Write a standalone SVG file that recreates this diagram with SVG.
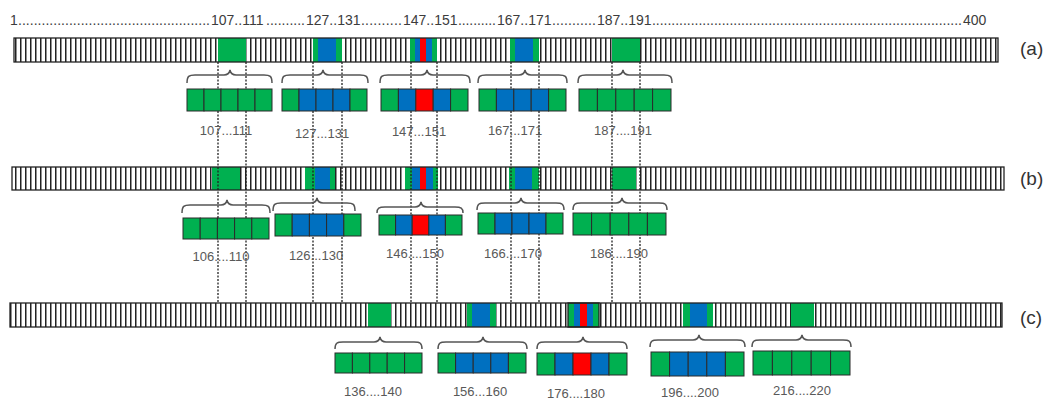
<svg xmlns="http://www.w3.org/2000/svg" width="1056" height="399" viewBox="0 0 1056 399">
<defs>
<pattern id="cells" patternUnits="userSpaceOnUse" x="0" y="0" width="5" height="40">
<rect x="0" y="0" width="5" height="40" fill="#ffffff"/>
<rect x="0" y="0" width="1.5" height="40" fill="#222222"/>
</pattern>
</defs>
<style>
.g{fill:#00b050}
.b{fill:#0070c0}
.r{fill:#ff0000}
.cell rect{stroke:#2b2b2b;stroke-width:1}
.bar{fill:url(#cells)}
.outline{fill:none;stroke:#222222;stroke-width:1.3}
.brace{fill:none;stroke:#555555;stroke-width:1.5}
.lbl{font-family:"Liberation Sans",Arial,sans-serif;font-size:13px;fill:#595959;text-anchor:middle}
.ruler{font-family:"Liberation Sans",Arial,sans-serif;font-size:14px;fill:#3c3c3c}
.tag{font-family:"Liberation Sans",Arial,sans-serif;font-size:19px;fill:#333333}
.dot{fill:none;stroke:#222222;stroke-width:1.3;stroke-dasharray:2 1.5}
</style>

<text class="ruler" y="25"><tspan x="10">1</tspan><tspan x="18" textLength="192" lengthAdjust="spacing">.................................................</tspan><tspan x="211">107..111</tspan><tspan x="266" textLength="39" lengthAdjust="spacing">..........</tspan><tspan x="306">127..131</tspan><tspan x="361" textLength="41" lengthAdjust="spacing">..........</tspan><tspan x="403">147..151</tspan><tspan x="458" textLength="38" lengthAdjust="spacing">..........</tspan><tspan x="497">167..171</tspan><tspan x="552" textLength="44" lengthAdjust="spacing">...........</tspan><tspan x="597">187..191</tspan><tspan x="652" textLength="310" lengthAdjust="spacing">................................................................................</tspan><tspan x="963">400</tspan></text>

<g id="bar-a">
<rect class="bar" x="14" y="38" width="984" height="24"/>
<rect class="g" x="218" y="38" width="28" height="24"/>
<rect class="g" x="313" y="38" width="29" height="24"/><rect class="b" x="318" y="38" width="18" height="24"/>
<rect class="g" x="410" y="38" width="27" height="24"/><rect class="b" x="415" y="38" width="17" height="24"/><rect class="r" x="420" y="38" width="6" height="24"/>
<rect class="g" x="510" y="38" width="29" height="24"/><rect class="b" x="515" y="38" width="18" height="24"/>
<rect class="g" x="612" y="38" width="28" height="24"/>
<rect class="outline" x="14" y="38" width="984" height="24"/>
<text class="tag" x="1020" y="55">(a)</text>
</g>

<g id="bar-b">
<rect class="bar" x="12" y="167" width="992" height="23"/>
<rect class="g" x="212" y="167" width="28" height="23"/>
<rect class="g" x="305" y="167" width="30" height="23"/><rect class="b" x="315" y="167" width="15" height="23"/>
<rect class="g" x="405" y="167" width="33" height="23"/><rect class="b" x="412" y="167" width="21" height="23"/><rect class="r" x="420" y="167" width="6" height="23"/>
<rect class="g" x="509" y="167" width="30" height="23"/><rect class="b" x="515" y="167" width="17" height="23"/>
<rect class="g" x="612" y="167" width="24" height="23"/>
<rect class="outline" x="12" y="167" width="992" height="23"/>
<text class="tag" x="1020" y="185">(b)</text>
</g>

<g id="bar-c">
<rect class="bar" x="10" y="303" width="992" height="24"/>
<rect class="g" x="368" y="303" width="23" height="24"/>
<rect class="g" x="467" y="303" width="29" height="24"/><rect class="b" x="472" y="303" width="18" height="24"/>
<rect class="g" x="568" y="303" width="31" height="24"/><rect class="b" x="574" y="303" width="19" height="24"/><rect class="r" x="580" y="303" width="7" height="24"/>
<rect class="g" x="683" y="303" width="30" height="24"/><rect class="b" x="690" y="303" width="17" height="24"/>
<rect class="g" x="791" y="303" width="23" height="24"/>
<rect class="outline" x="10" y="303" width="992" height="24"/>
<rect class="outline" x="568" y="303" width="31" height="24"/>
<text class="tag" x="1020" y="324">(c)</text>
</g>

<g id="connectors">
<line class="dot" x1="218" y1="62" x2="218" y2="303"/>
<line class="dot" x1="246" y1="62" x2="246" y2="303"/>
<line class="dot" x1="313" y1="62" x2="313" y2="303"/>
<line class="dot" x1="342" y1="62" x2="342" y2="303"/>
<line class="dot" x1="411" y1="62" x2="411" y2="303"/>
<line class="dot" x1="437" y1="62" x2="437" y2="303"/>
<line class="dot" x1="511" y1="62" x2="511" y2="303"/>
<line class="dot" x1="539" y1="62" x2="539" y2="303"/>
<line class="dot" x1="612" y1="62" x2="612" y2="303"/>
<line class="dot" x1="640" y1="62" x2="640" y2="303"/>
</g>

<g id="seg-a1">
<path class="brace" d="M187,83 C187,76 189,75 195,75 L224,75 Q229,75 230,70 Q231,75 236,75 L264,75 C270,75 272,76 272,83"/>
<g class="cell"><rect class="g" x="187" y="89" width="17" height="22"/><rect class="g" x="204" y="89" width="17" height="22"/><rect class="g" x="221" y="89" width="17" height="22"/><rect class="g" x="238" y="89" width="17" height="22"/><rect class="g" x="255" y="89" width="17" height="22"/></g>
<text class="lbl" x="226" y="135">107...111</text>
</g>
<g id="seg-a2">
<path class="brace" d="M282,83 C282,76 284,75 290,75 L317,75 Q322,75 323,70 Q324,75 329,75 L360,75 C366,75 368,76 368,83"/>
<g class="cell"><rect class="g" x="282" y="89" width="17" height="22"/><rect class="b" x="299" y="89" width="17" height="22"/><rect class="b" x="316" y="89" width="17" height="22"/><rect class="b" x="333" y="89" width="17" height="22"/><rect class="g" x="350" y="89" width="17" height="22"/></g>
<text class="lbl" x="322" y="138">127...131</text>
</g>
<g id="seg-a3">
<path class="brace" d="M380,83 C380,76 382,75 388,75 L421,75 Q426,75 427,70 Q428,75 433,75 L462,75 C468,75 470,76 470,83"/>
<g class="cell"><rect class="g" x="381" y="89" width="17.4" height="22"/><rect class="b" x="398.4" y="89" width="17.4" height="22"/><rect class="r" x="415.8" y="89" width="17.4" height="22"/><rect class="b" x="433.2" y="89" width="17.4" height="22"/><rect class="g" x="450.6" y="89" width="17.4" height="22"/></g>
<text class="lbl" x="419" y="136">147...151</text>
</g>
<g id="seg-a4">
<path class="brace" d="M478,83 C478,76 480,75 486,75 L519,75 Q524,75 525,70 Q526,75 531,75 L559,75 C565,75 567,76 567,83"/>
<g class="cell"><rect class="g" x="479" y="89" width="17.4" height="22"/><rect class="b" x="496.4" y="89" width="17.4" height="22"/><rect class="b" x="513.8" y="89" width="17.4" height="22"/><rect class="b" x="531.2" y="89" width="17.4" height="22"/><rect class="g" x="548.6" y="89" width="17.4" height="22"/></g>
<text class="lbl" x="515" y="135">167...171</text>
</g>
<g id="seg-a5">
<path class="brace" d="M578,83 C578,76 580,75 586,75 L617,75 Q622,75 623,70 Q624,75 629,75 L664,75 C670,75 672,76 672,83"/>
<g class="cell"><rect class="g" x="579" y="89" width="18.4" height="22"/><rect class="g" x="597.4" y="89" width="18.4" height="22"/><rect class="g" x="615.8" y="89" width="18.4" height="22"/><rect class="g" x="634.2" y="89" width="18.4" height="22"/><rect class="g" x="652.6" y="89" width="18.4" height="22"/></g>
<text class="lbl" x="623" y="135">187....191</text>
</g>

<g id="seg-b1">
<path class="brace" d="M182,213 C182,206 184,205 190,205 L221,205 Q226,205 227,200 Q228,205 233,205 L262,205 C268,205 270,206 270,213"/>
<g class="cell"><rect class="g" x="183" y="218" width="17.2" height="21"/><rect class="g" x="200.2" y="218" width="17.2" height="21"/><rect class="g" x="217.4" y="218" width="17.2" height="21"/><rect class="g" x="234.6" y="218" width="17.2" height="21"/><rect class="g" x="251.8" y="218" width="17.2" height="21"/></g>
<text class="lbl" x="221" y="261">106....110</text>
</g>
<g id="seg-b2">
<path class="brace" d="M273,211 C273,204 275,203 281,203 L311,203 Q316,203 317,198 Q318,203 323,203 L347,203 C353,203 355,204 355,211"/>
<g class="cell"><rect class="g" x="275" y="214" width="17.2" height="22"/><rect class="b" x="292.2" y="214" width="17.2" height="22"/><rect class="b" x="309.4" y="214" width="17.2" height="22"/><rect class="b" x="326.6" y="214" width="17.2" height="22"/><rect class="g" x="343.8" y="214" width="17.2" height="22"/></g>
<text class="lbl" x="316" y="260">126...130</text>
</g>
<g id="seg-b3">
<path class="brace" d="M377,213 C377,208 379,207 385,207 L415,207 Q420,207 421,202 Q422,207 427,207 L455,207 C461,207 463,208 463,213"/>
<g class="cell"><rect class="g" x="379" y="215" width="16.6" height="20"/><rect class="b" x="395.6" y="215" width="16.6" height="20"/><rect class="r" x="412.2" y="215" width="16.6" height="20"/><rect class="b" x="428.8" y="215" width="16.6" height="20"/><rect class="g" x="445.4" y="215" width="16.6" height="20"/></g>
<text class="lbl" x="415" y="258">146....150</text>
</g>
<g id="seg-b4">
<path class="brace" d="M477,210 C477,204 479,203 485,203 L515,203 Q520,203 521,198 Q522,203 527,203 L556,203 C562,203 564,204 564,210"/>
<g class="cell"><rect class="g" x="478" y="213" width="17" height="21"/><rect class="b" x="495" y="213" width="17" height="21"/><rect class="b" x="512" y="213" width="17" height="21"/><rect class="b" x="529" y="213" width="17" height="21"/><rect class="g" x="546" y="213" width="17" height="21"/></g>
<text class="lbl" x="513" y="258">166....170</text>
</g>
<g id="seg-b5">
<path class="brace" d="M573,210 C573,204 575,203 581,203 L616,203 Q621,203 622,198 Q623,203 628,203 L659,203 C665,203 667,204 667,210"/>
<g class="cell"><rect class="g" x="573" y="213" width="18.6" height="22"/><rect class="g" x="591.6" y="213" width="18.6" height="22"/><rect class="g" x="610.2" y="213" width="18.6" height="22"/><rect class="g" x="628.8" y="213" width="18.6" height="22"/><rect class="g" x="647.4" y="213" width="18.6" height="22"/></g>
<text class="lbl" x="619" y="258">186....190</text>
</g>

<g id="seg-c1">
<path class="brace" d="M335,349 C335,343 337,342 343,342 L374,342 Q379,342 380,337 Q381,342 386,342 L414,342 C420,342 422,343 422,349"/>
<g class="cell"><rect class="g" x="335" y="353" width="17.4" height="20"/><rect class="g" x="352.4" y="353" width="17.4" height="20"/><rect class="g" x="369.8" y="353" width="17.4" height="20"/><rect class="g" x="387.2" y="353" width="17.4" height="20"/><rect class="g" x="404.6" y="353" width="17.4" height="20"/></g>
<text class="lbl" x="373" y="396">136....140</text>
</g>
<g id="seg-c2">
<path class="brace" d="M438,349 C438,343 440,342 446,342 L477,342 Q482,342 483,337 Q484,342 489,342 L519,342 C525,342 527,343 527,349"/>
<g class="cell"><rect class="g" x="438" y="353" width="17.6" height="20"/><rect class="b" x="455.6" y="353" width="17.6" height="20"/><rect class="b" x="473.2" y="353" width="17.6" height="20"/><rect class="b" x="490.8" y="353" width="17.6" height="20"/><rect class="g" x="508.4" y="353" width="17.6" height="20"/></g>
<text class="lbl" x="480" y="396">156...160</text>
</g>
<g id="seg-c3">
<path class="brace" d="M537,349 C537,343 539,342 545,342 L577,342 Q582,342 583,337 Q584,342 589,342 L619,342 C625,342 627,343 627,349"/>
<g class="cell"><rect class="g" x="537" y="353" width="18" height="22"/><rect class="b" x="555" y="353" width="18" height="22"/><rect class="r" x="573" y="353" width="18" height="22"/><rect class="b" x="591" y="353" width="18" height="22"/><rect class="g" x="609" y="353" width="18" height="22"/></g>
<text class="lbl" x="576" y="398">176....180</text>
</g>
<g id="seg-c4">
<path class="brace" d="M650,347 C650,341 652,340 658,340 L693,340 Q698,340 699,335 Q700,340 705,340 L737,340 C743,340 745,341 745,347"/>
<g class="cell"><rect class="g" x="651" y="352" width="18.6" height="24"/><rect class="b" x="669.6" y="352" width="18.6" height="24"/><rect class="b" x="688.2" y="352" width="18.6" height="24"/><rect class="b" x="706.8" y="352" width="18.6" height="24"/><rect class="g" x="725.4" y="352" width="18.6" height="24"/></g>
<text class="lbl" x="690" y="397">196....200</text>
</g>
<g id="seg-c5">
<path class="brace" d="M752,347 C752,341 754,340 760,340 L796,340 Q801,340 802,335 Q803,340 808,340 L843,340 C849,340 851,341 851,347"/>
<g class="cell"><rect class="g" x="753" y="351" width="19.4" height="24"/><rect class="g" x="772.4" y="351" width="19.4" height="24"/><rect class="g" x="791.8" y="351" width="19.4" height="24"/><rect class="g" x="811.2" y="351" width="19.4" height="24"/><rect class="g" x="830.6" y="351" width="19.4" height="24"/></g>
<text class="lbl" x="802" y="395">216....220</text>
</g>
</svg>
